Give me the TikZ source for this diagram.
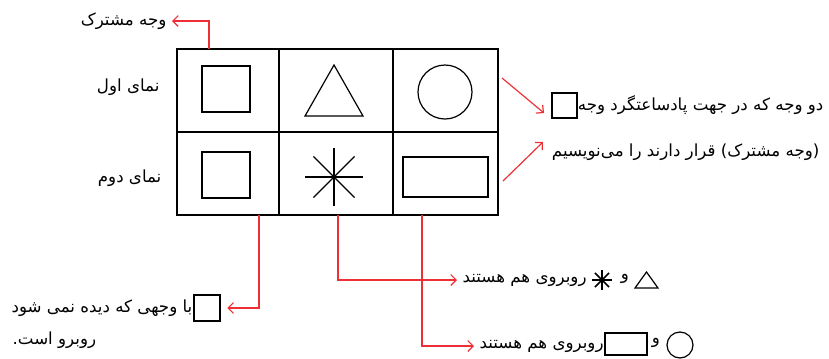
\documentclass[tikz,border=0pt]{standalone}
\usepackage{fontspec}
\newfontfamily\farsi[Script=Arabic]{DejaVu Sans}
\TeXXeTstate=1
\usetikzlibrary{arrows.meta, positioning, calc}
\definecolor{mRed}{HTML}{EE2F36}
\newcommand{\fa}[1]{{\farsi\beginR #1\endR}}

\begin{document}
\begin{tikzpicture}[
    x=0.75pt, y=-0.75pt,
    cell/.style={draw, line width=1.1pt, inner sep=0pt, minimum height=62.25pt},
    shp/.style={draw, line width=0.9pt, inner sep=0pt},
    txt/.style={font=\fontsize{12.5}{15}\selectfont, inner sep=1pt},
    tagged/.style={txt, inner xsep=4pt},
    link/.style={draw=mRed, line width=0.9pt, -{Straight Barb[length=4pt, width=8pt]}},
  ]
    \useasboundingbox (0,0) rectangle (829,358);

    \node[cell, minimum width=76.5pt]  (c11) at (228,90.5) {};
    \node[cell, minimum width=85.5pt]  (c12) at (336,90.5) {};
    \node[cell, minimum width=78.75pt] (c13) at (445.5,90.5) {};
    \node[cell, minimum width=76.5pt]  (c21) at (228,173.5) {};
    \node[cell, minimum width=85.5pt]  (c22) at (336,173.5) {};
    \node[cell, minimum width=78.75pt] (c23) at (445.5,173.5) {};

    \node[shp, minimum width=36pt, minimum height=34.5pt] (sq1) at (226,89) {};
    \draw[shp] (334,65) -- (363,116) -- (305,116) -- cycle;
    \node[shp, circle, minimum size=40.5pt] (circ) at (445,92) {};
    \node[shp, minimum width=36pt, minimum height=34.5pt] (sq2) at (226,175) {};
    \coordinate (ast) at (334,177);
    \foreach \a in {0,45,90,135}
      \draw[shp] ($(ast)+(\a:29)$) -- ($(ast)+(\a+180:29)$);
    \node[shp, minimum width=63.75pt, minimum height=30pt] (rct) at (445.5,177) {};

    \node[txt, anchor=east] (view1) at (161,87) {\fa{نمای اول}};
    \node[txt, anchor=east] (view2) at (163,178) {\fa{نمای دوم}};

    \node[tagged, anchor=east] (common) at (172,21) {\fa{وجه مشترک}};
    \coordinate (t1) at (209,49);
    \draw[link] (t1) |- (common.east);

    \node[shp, minimum size=18.75pt] (fsq) at (564.5,105.5) {};
    \node[txt, anchor=east] (desc1) at (825,105) {\fa{دو وجه که در جهت پادساعتگرد وجه}};
    \node[txt, anchor=east] (desc2) at (821,152) {\fa{(وجه مشترک) قرار دارند را می‌نویسیم}};
    \coordinate (r1) at (502,78);
    \coordinate (r1e) at (544,113);
    \coordinate (r2) at (503,181);
    \coordinate (r2e) at (543,142);
    \draw[link] (r1) -- (r1e);
    \draw[link] (r2) -- (r2e);

    \node[shp, minimum size=19.5pt] (bsq) at (207,308) {};
    \node[txt, anchor=east] (back1) at (194,308) {\fa{با وجهی که دیده نمی شود}};
    \node[txt, anchor=west] (back2) at (11,340) {\fa{روبرو است.}};
    \coordinate (b1) at (259,215);
    \draw[link] (b1) |- ([xshift=5pt]bsq.east);

    \node[tagged, anchor=west] (opp1) at (457,280) {\fa{روبروی هم هستند}};
    \coordinate (st2) at (602,280);
    \foreach \a in {0,45,90,135}
      \draw[shp, line width=1.1pt] ($(st2)+(\a:10)$) -- ($(st2)+(\a+180:10)$);
    \node[txt] (and1) at (625,279) {\fa{و}};
    \draw[shp] (646.5,272) -- (658,288) -- (635,288) -- cycle;
    \coordinate (b2) at (338,215);
    \draw[link] (b2) |- (opp1.west);

    \node[tagged, anchor=west] (opp2) at (474,346) {\fa{روبروی هم هستند}};
    \node[shp, minimum width=31.5pt, minimum height=16.5pt] (rct2) at (626,344) {};
    \node[txt] (and2) at (656,343) {\fa{و}};
    \node[shp, circle, minimum size=19.5pt] (circ2) at (680,345) {};
    \coordinate (b3) at (422,215);
    \draw[link] (b3) |- (opp2.west);
\end{tikzpicture}
\end{document}
